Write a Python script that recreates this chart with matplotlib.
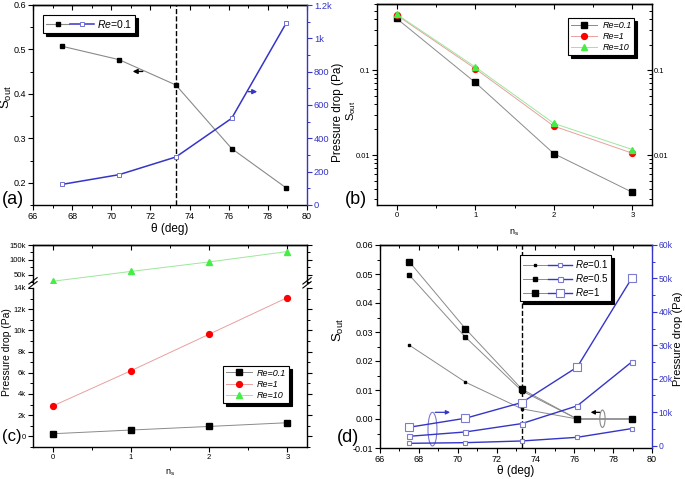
import matplotlib
matplotlib.use('Agg')
import matplotlib.pyplot as plt
from matplotlib.ticker import MultipleLocator, FuncFormatter, FixedLocator, NullFormatter, LogLocator
from matplotlib.patches import Ellipse
from matplotlib.legend_handler import HandlerTuple
from matplotlib.lines import Line2D

plt.rcParams['font.family'] = ['Liberation Sans', 'DejaVu Sans']
plt.rcParams['mathtext.fontset'] = 'custom'
plt.rcParams['mathtext.rm'] = 'Liberation Sans'
plt.rcParams['mathtext.it'] = 'Liberation Sans:italic'
plt.rcParams['axes.linewidth'] = 1.0

# ---------------- data ----------------
theta = [67.5, 70.4, 73.3, 76.15, 78.95]
theta_crit = 73.3
a_sout = [0.507, 0.477, 0.420, 0.277, 0.188]
a_dp = [124, 182, 288, 520, 1094]

ns = [0, 1, 2, 3]
b_re01 = [0.405, 0.0716, 0.0104, 0.00364]
b_re1 = [0.444, 0.104, 0.0219, 0.0105]
b_re10 = [0.455, 0.109, 0.0236, 0.0116]

c_re01 = [250, 600, 940, 1290]
c_re1 = [2860, 6190, 9640, 13100]
c_re10 = [27800, 61000, 93000, 128000]

d_sout_01 = [0.0255, 0.0127, 0.0035, 0.0, 0.0]
d_sout_05 = [0.0497, 0.0282, 0.0097, 0.0, 0.0]
d_sout_1 = [0.0543, 0.0311, 0.0103, 0.0, 0.0]
d_dp_01 = [700, 900, 1400, 2500, 5100]
d_dp_05 = [2800, 4100, 6600, 11900, 25000]
d_dp_1 = [5500, 8200, 12900, 23500, 50000]

re_labels_it = ['Re=0.1', 'Re=1', 'Re=10']
re_labels_d = [r'$\mathit{Re}$=0.1', r'$\mathit{Re}$=0.5', r'$\mathit{Re}$=1']

BLUE = '#3535c8'
GRAY = '#8a8a8a'

W, H = 685, 479
fig = plt.figure(figsize=(W / 100, H / 100), dpi=100)


def rect(l, t, r, b):
    return [l / W, 1 - b / H, (r - l) / W, (b - t) / H]


def kfmt(v, pos=None):
    if abs(v) < 1e-9:
        return '0'
    if abs(v) >= 1000:
        return f'{v / 1000:g}k'
    return f'{v:g}'


def base_style(ax, fs, pad=1.5):
    ax.tick_params(which='both', direction='out', labelsize=fs, pad=pad)
    ax.tick_params(which='major', length=3.5, width=0.8)
    ax.tick_params(which='minor', length=2, width=0.7)


def top_ticks(ax, major, minor):
    sec = ax.secondary_xaxis('top')
    sec.set_xticks(major)
    sec.xaxis.set_minor_locator(MultipleLocator(minor))
    sec.tick_params(which='both', direction='in', labeltop=False)
    sec.tick_params(which='major', length=3.5, width=0.8)
    sec.tick_params(which='minor', length=2, width=0.7)
    return sec


def shadow_legend(ax, handles, labels, **kw):
    leg = ax.legend(handles, labels, fancybox=False, edgecolor='k',
                    shadow={'color': 'k', 'alpha': 1.0}, framealpha=1, **kw)
    leg.get_frame().set_linewidth(0.8)
    return leg

# ---------------- (a) ----------------
ax = fig.add_axes(rect(33, 5, 307, 205))
base_style(ax, 6.5, pad=1.2)
l1, = ax.plot(theta, a_sout, '-s', color=GRAY, lw=0.8, ms=2.2, mfc='k', mec='k')
ax.axvline(theta_crit, color='k', ls='--', lw=1.0)
ax.set_xlim(66, 80)
ax.set_ylim(0.15, 0.6)
ax.xaxis.set_major_locator(MultipleLocator(2))
ax.xaxis.set_minor_locator(MultipleLocator(1))
ax.yaxis.set_major_locator(MultipleLocator(0.1))
ax.yaxis.set_minor_locator(MultipleLocator(0.05))
ax.spines['right'].set_visible(False)
top_ticks(ax, range(66, 81, 2), 1)
ax.set_xlabel('θ (deg)', fontsize=8.5, labelpad=2)
ax.set_ylabel(r'S$_{\mathrm{out}}$', fontsize=9.5)
ax.yaxis.set_label_coords(-0.07, 0.54)
ax.annotate('', xy=(70.95, 0.4505), xytext=(71.75, 0.4505),
            arrowprops=dict(arrowstyle='-|>', color=GRAY, lw=1.0, mutation_scale=7, fc='k', ec='k'))
ax.annotate('', xy=(77.6, 0.405), xytext=(76.85, 0.405),
            arrowprops=dict(arrowstyle='-|>', color=BLUE, lw=1.0, mutation_scale=7))
axr = ax.twinx()
l2, = axr.plot(theta, a_dp, '-s', color=BLUE, lw=1.1, ms=2.5, mfc='white', mec='#7070d8', mew=0.7)
axr.set_ylim(0, 1200)
axr.yaxis.set_major_locator(MultipleLocator(200))
axr.yaxis.set_minor_locator(MultipleLocator(100))
axr.yaxis.set_major_formatter(FuncFormatter(kfmt))
base_style(axr, 6.7)
axr.tick_params(which='both', colors=BLUE, labelcolor=BLUE)
for s in ['left', 'top', 'bottom']:
    axr.spines[s].set_visible(False)
axr.spines['right'].set_color(BLUE)
axr.set_ylabel('Pressure drop (Pa)', fontsize=8.5)
axr.yaxis.set_label_coords(1.09, 0.465)
shadow_legend(ax, [(l1, l2)], [r'$\mathit{Re}$=0.1'], loc='upper left',
              bbox_to_anchor=(0.036, 0.95), fontsize=7.5, handlelength=4.6,
              handler_map={tuple: HandlerTuple(ndivide=None, pad=0.1)},
              borderpad=0.3, handletextpad=0.3, borderaxespad=0)
fig.text(2 / W, 1 - 199 / H, '(a)', fontsize=13, va='center', ha='left')

# ---------------- (b) ----------------
ax = fig.add_axes(rect(377, 4, 652, 205))
base_style(ax, 5.5)
ax.set_yscale('log')
hb1, = ax.plot(ns, b_re01, '-s', color=GRAY, lw=0.7, ms=4, mfc='k', mec='k')
hb2, = ax.plot(ns, b_re1, '-o', color='#e8a0a0', lw=0.7, ms=4.2, mfc='red', mec='red')
hb3, = ax.plot(ns, b_re10, '-^', color='#9be89b', lw=0.7, ms=4.2, mfc='#44ee44', mec='#44ee44')
ax.set_xlim(-0.25, 3.25)
ax.set_ylim(0.00258, 0.6)
ax.xaxis.set_major_locator(FixedLocator(ns))
ax.xaxis.set_minor_locator(MultipleLocator(0.5))
ax.yaxis.set_major_locator(LogLocator(base=10, numticks=10))
ax.yaxis.set_minor_locator(LogLocator(base=10, subs=range(2, 10), numticks=20))
ax.yaxis.set_major_formatter(FuncFormatter(lambda v, p: f'{v:g}'))
ax.yaxis.set_minor_formatter(NullFormatter())
ax.spines['right'].set_visible(False)
top_ticks(ax, ns, 0.5)
ax.set_xlabel(r'n$_{\mathrm{s}}$', fontsize=6.5, labelpad=6)
ax.set_ylabel(r'S$_{\mathrm{out}}$', fontsize=8)
ax.yaxis.set_label_coords(-0.07, 0.47)
axr = ax.twinx()
axr.set_yscale('log')
axr.set_ylim(ax.get_ylim())
axr.yaxis.set_major_locator(LogLocator(base=10, numticks=10))
axr.yaxis.set_minor_locator(LogLocator(base=10, subs=range(2, 10), numticks=20))
axr.yaxis.set_major_formatter(FuncFormatter(lambda v, p: f'{v:g}'))
axr.yaxis.set_minor_formatter(NullFormatter())
base_style(axr, 5.5)
axr.tick_params(which='both', direction='in')
for s in ['left', 'top', 'bottom']:
    axr.spines[s].set_visible(False)
shadow_legend(ax, [hb1, hb2, hb3], re_labels_it, loc='upper left',
              bbox_to_anchor=(0.695, 0.93), prop={'size': 6.5, 'style': 'italic'},
              handlelength=2.9, borderpad=0.3, handletextpad=0.6, borderaxespad=0,
              labelspacing=0.25)
fig.text(345 / W, 1 - 199 / H, '(b)', fontsize=13, va='center', ha='left')

# ---------------- (c) ----------------
axt = fig.add_axes(rect(33, 245, 307, 283))
axb = fig.add_axes(rect(33, 288, 307, 447))
for a in (axt, axb):
    base_style(a, 5.5)
    a.set_xlim(-0.25, 3.25)
    a.xaxis.set_major_locator(FixedLocator(ns))
    a.xaxis.set_minor_locator(MultipleLocator(0.5))
    a.yaxis.set_major_formatter(FuncFormatter(kfmt))
    a.tick_params(which='both', right=True)
axt.plot(ns, c_re10, '-^', color='#9be89b', lw=0.7, ms=4.2, mfc='#44ee44', mec='#44ee44')
axt.set_ylim(22000, 150000)
axt.yaxis.set_major_locator(MultipleLocator(50000))
axt.yaxis.set_minor_locator(MultipleLocator(25000))
axt.spines['bottom'].set_visible(False)
axt.tick_params(which='both', bottom=False, labelbottom=False)
top_ticks(axt, ns, 0.5)
hc1, = axb.plot(ns, c_re01, '-s', color=GRAY, lw=0.7, ms=4, mfc='k', mec='k')
hc2, = axb.plot(ns, c_re1, '-o', color='#e8a0a0', lw=0.7, ms=4.2, mfc='red', mec='red')
hc3 = Line2D([], [], ls='-', marker='^', color='#9be89b', lw=0.7, ms=4.2, mfc='#44ee44', mec='#44ee44')
axb.set_ylim(-1000, 14000)
axb.yaxis.set_major_locator(MultipleLocator(2000))
axb.yaxis.set_minor_locator(MultipleLocator(1000))
axb.spines['top'].set_visible(False)
axb.set_xlabel(r'n$_{\mathrm{s}}$', fontsize=6.5, labelpad=5)
axb.set_ylabel('Pressure drop (Pa)', fontsize=7.5)
axb.yaxis.set_label_coords(-0.075, 0.6)
# break marks
for xa in (0, 1):
    for dy in (0.0, 0.025):
        axb.plot([xa - 0.015, xa + 0.015], [1.0 + dy, 1.04 + dy], transform=axb.transAxes,
                 color='k', lw=0.8, clip_on=False)
shadow_legend(axb, [hc1, hc2, hc3], re_labels_it, loc='upper left',
              bbox_to_anchor=(0.693, 0.51), prop={'size': 6.5, 'style': 'italic'},
              handlelength=2.9, borderpad=0.3, handletextpad=0.6, borderaxespad=0,
              labelspacing=0.25)
fig.text(2 / W, 1 - 436 / H, '(c)', fontsize=12, va='center', ha='left')

# ---------------- (d) ----------------
ax = fig.add_axes(rect(380, 245, 652, 448))
base_style(ax, 6.5)
sizes = [1.8, 3.0, 5.0]
sd = [d_sout_01, d_sout_05, d_sout_1]
pd_ = [d_dp_01, d_dp_05, d_dp_1]
hs = []
for s, ms in zip(sd, sizes):
    h, = ax.plot(theta, s, '-s', color=GRAY, lw=0.7, ms=ms, mfc='k', mec='k')
    hs.append(h)
ax.axvline(theta_crit, color='k', ls='--', lw=1.0)
ax.set_xlim(66, 80)
ax.set_ylim(-0.01, 0.06)
ax.xaxis.set_major_locator(MultipleLocator(2))
ax.xaxis.set_minor_locator(MultipleLocator(1))
ax.yaxis.set_major_locator(MultipleLocator(0.01))
ax.yaxis.set_minor_locator(MultipleLocator(0.005))
ax.yaxis.set_major_formatter(FuncFormatter(lambda v, p: f'{v:.2f}'))
ax.spines['right'].set_visible(False)
top_ticks(ax, range(66, 81, 2), 1)
ax.set_xlabel('θ (deg)', fontsize=8.5, labelpad=0.5)
ax.set_ylabel(r'S$_{\mathrm{out}}$', fontsize=9.5)
ax.yaxis.set_label_coords(-0.125, 0.58)
ax.add_patch(Ellipse((68.7, -0.0035), 0.46, 0.0116, fill=False, ec='#7b7bd0', lw=0.8))
ax.annotate('', xy=(69.75, 0.0023), xytext=(68.7, 0.0023),
            arrowprops=dict(arrowstyle='-|>', color=BLUE, lw=0.9, mutation_scale=6))
ax.add_patch(Ellipse((77.45, 0.0001), 0.27, 0.006, fill=False, ec=GRAY, lw=0.8))
ax.annotate('', xy=(76.7, 0.0023), xytext=(77.45, 0.0023),
            arrowprops=dict(arrowstyle='-|>', color=GRAY, lw=0.9, mutation_scale=6, fc='k', ec='k'))
axr = ax.twinx()
hp = []
for p, ms in zip(pd_, [2.2, 3.6, 6.0]):
    h, = axr.plot(theta, p, '-s', color=BLUE, lw=1.0, ms=ms, mfc='white', mec='#7b7bd0', mew=0.8)
    hp.append(h)
axr.set_ylim(-700, 60000)
axr.yaxis.set_major_locator(MultipleLocator(10000))
axr.yaxis.set_minor_locator(MultipleLocator(5000))
axr.yaxis.set_major_formatter(FuncFormatter(kfmt))
base_style(axr, 6.2, pad=1.2)
axr.tick_params(which='both', colors=BLUE, labelcolor=BLUE)
for s in ['left', 'top', 'bottom']:
    axr.spines[s].set_visible(False)
axr.spines['right'].set_color(BLUE)
axr.set_ylabel('Pressure drop (Pa)', fontsize=8)
axr.yaxis.set_label_coords(1.079, 0.54)
shadow_legend(ax, list(zip(hs, hp)), re_labels_d, loc='upper left',
              bbox_to_anchor=(0.515, 0.95), fontsize=7, handlelength=5.0,
              handler_map={tuple: HandlerTuple(ndivide=None, pad=0.1)},
              borderpad=0.3, handletextpad=0.3, borderaxespad=0, labelspacing=0.2)
fig.text(337 / W, 1 - 437 / H, '(d)', fontsize=13, va='center', ha='left')

fig.savefig('out.png', dpi=100)
